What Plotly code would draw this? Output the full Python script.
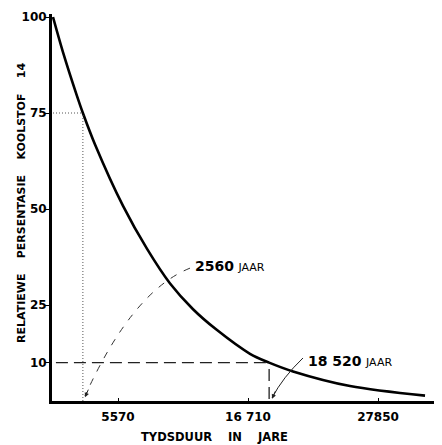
import plotly.graph_objects as go

# Data
years = [0, 860, 2060, 2560, 3600, 6000, 8060, 10030, 12000, 14000, 16880, 18520, 20570, 25450, 31880]
percent = [100, 90.8, 79.4, 75, 66.8, 50.8, 39.6, 30.6, 23.9, 18.6, 12.3, 10, 7.7, 3.9, 1.4]

x_tick_vals = [5570, 16710, 27850]
x_tick_text = ["5570", "16 710", "27850"]
y_tick_vals = [10, 25, 50, 75, 100]
y_tick_text = ["10", "25", "50", "75", "100"]

marker_years = [2560, 18520]
marker_percent = [75, 10]
marker_labels = ["2560", "18 520"]

FONT = "DejaVu Sans, Liberation Sans, sans-serif"

fig = go.Figure()
fig.add_trace(go.Scatter(x=years, y=percent, mode="lines",
                         line=dict(color="black", width=2.6, shape="spline", smoothing=0.9),
                         hoverinfo="skip", showlegend=False))

# reference lines
t1, p1 = marker_years[0], marker_percent[0]
t2, p2 = marker_years[1], marker_percent[1]
dot = dict(color="#555", width=1, dash="1px,2px")
dsh = dict(color="#222", width=1.3, dash="12px,6px")
shapes = [
    dict(type="line", xref="x", yref="y", x0=0, y0=p1, x1=t1, y1=p1, line=dot),
    dict(type="line", xref="x", yref="y", x0=t1, y0=0, x1=t1, y1=p1, line=dot),
    dict(type="line", xref="x", yref="y", x0=250, y0=p2, x1=t2, y1=p2, line=dsh),
    dict(type="line", xref="x", yref="y", x0=t2, y0=0.5, x1=t2, y1=p2, line=dsh),
    # curved leaders
    dict(type="path", xref="x", yref="y",
         path=f"M {t1+9180},34.6 Q {t1+4250},28.6 {t1+180},1.3",
         line=dict(color="#333", width=1, dash="7px,8px")),
    dict(type="path", xref="x", yref="y",
         path=f"M {t2+2900},11.2 Q {t2+1150},6.1 {t2+250},0.8",
         line=dict(color="#222", width=1)),
]

num_style = "<b>{}</b> <span style='font-size:11px'>JAAR</span>"
annotations = [
    dict(x=t1 + 180, y=1.0, xref="x", yref="y", text="", showarrow=True,
         ax=4, ay=-9, arrowhead=2, arrowsize=0.9, arrowwidth=1, arrowcolor="#222"),
    dict(x=t2 + 250, y=0.6, xref="x", yref="y", text="", showarrow=True,
         ax=4, ay=-9, arrowhead=2, arrowsize=0.9, arrowwidth=1, arrowcolor="#222"),
    dict(x=(193 - 52) / 390, y=(401 - 266) / 387, xref="paper", yref="paper",
         xanchor="left", yanchor="middle", showarrow=False,
         text=num_style.format(marker_labels[0]),
         font=dict(family=FONT, size=14, color="black")),
    dict(x=(306 - 52) / 390, y=(401 - 361) / 387, xref="paper", yref="paper",
         xanchor="left", yanchor="middle", showarrow=False,
         text=num_style.format(marker_labels[1]),
         font=dict(family=FONT, size=14, color="black")),
    dict(x=(21 - 52) / 390, y=(401 - 203) / 387, xref="paper", yref="paper",
         xanchor="center", yanchor="middle", showarrow=False, textangle=-90,
         text="<b>RELATIEWE    PERSENTASIE    KOOLSTOF    14</b>",
         font=dict(family=FONT, size=11, color="black")),
    dict(x=(214 - 52) / 390, y=(401 - 437) / 387, xref="paper", yref="paper",
         xanchor="center", yanchor="middle", showarrow=False,
         text="<b>TYDSDUUR    IN    JARE</b>",
         font=dict(family=FONT, size=11.5, color="black")),
]

# page body has an 8px margin: size the figure so the plot lands where the reference has it
fig.update_layout(
    width=434, height=437,
    margin=dict(l=44, r=0, t=6, b=44),
    paper_bgcolor="white", plot_bgcolor="white",
    font=dict(family=FONT, color="black"),
    shapes=shapes, annotations=annotations,
    xaxis=dict(range=[-86, 33334], showgrid=False, zeroline=False,
               showline=True, linecolor="black", linewidth=2.5,
               tickmode="array", tickvals=x_tick_vals, ticktext=x_tick_text,
               ticks="inside", ticklen=3, tickwidth=1, tickcolor="black",
               ticklabelstandoff=3,
               tickfont=dict(family=FONT, size=12, color="black", weight="bold")),
    yaxis=dict(range=[0, 100.78], showgrid=False, zeroline=False,
               showline=True, linecolor="black", linewidth=3,
               tickmode="array", tickvals=y_tick_vals, ticktext=y_tick_text,
               ticks="outside", ticklen=4, tickwidth=1.2, tickcolor="black",
               ticklabelstandoff=-4,
               tickfont=dict(family=FONT, size=12, color="black", weight="bold")),
)

fig.write_html("out.html")
